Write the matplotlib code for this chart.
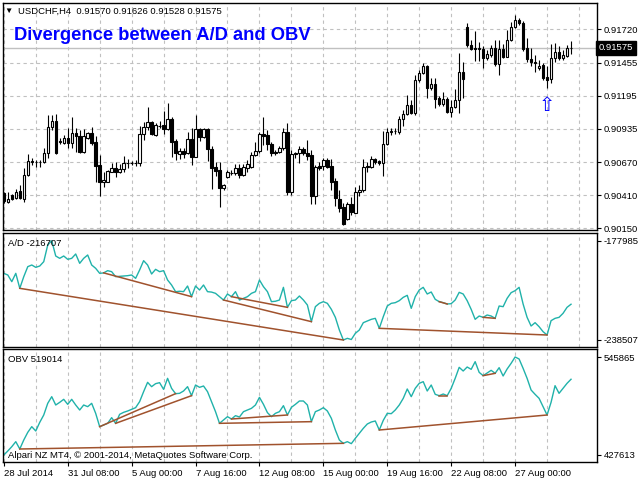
import matplotlib
matplotlib.use("Agg")
import matplotlib.pyplot as plt
import matplotlib.transforms as mtransforms
import numpy as np

plt.rcParams['font.family'] = ['Liberation Sans', 'DejaVu Sans']

# USDCHF H4 candles
opens = [
    0.90423, 0.90358, 0.90411, 0.90385, 0.90443, 0.90379, 0.90569, 0.90674, 0.90674, 0.90669,
    0.90674, 0.90740, 0.90951, 0.90996, 0.90830, 0.90824, 0.90864, 0.90819, 0.90898, 0.90879,
    0.90748, 0.90859, 0.90898, 0.90827, 0.90648, 0.90516, 0.90516, 0.90595, 0.90622, 0.90595,
    0.90616, 0.90661, 0.90663, 0.90661, 0.90661, 0.90891, 0.90946, 0.90985, 0.90885, 0.90958,
    0.90964, 0.90930, 0.91011, 0.90838, 0.90733, 0.90759, 0.90740, 0.90853, 0.90714, 0.90932,
    0.90872, 0.90932, 0.90774, 0.90632, 0.90606, 0.90464, 0.90556, 0.90585, 0.90582, 0.90627,
    0.90569, 0.90627, 0.90635, 0.90727, 0.90759, 0.90891, 0.90885, 0.90811, 0.90751, 0.90753,
    0.90785, 0.90906, 0.90432, 0.90733, 0.90740, 0.90774, 0.90740, 0.90727, 0.90405, 0.90640,
    0.90640, 0.90688, 0.90640, 0.90522, 0.90379, 0.90319, 0.90221, 0.90340, 0.90271, 0.90432,
    0.90450, 0.90635, 0.90630, 0.90693, 0.90680, 0.90661, 0.90811, 0.90911, 0.90917, 0.90911,
    0.91009, 0.91049, 0.91122, 0.91056, 0.91319, 0.91377, 0.91430, 0.91254, 0.91286, 0.91177,
    0.91130, 0.91169, 0.91067, 0.91110, 0.91162, 0.91385, 0.91741, 0.91596, 0.91575, 0.91562,
    0.91564, 0.91493, 0.91517, 0.91570, 0.91444, 0.91564, 0.91504, 0.91636, 0.91736, 0.91793,
    0.91767, 0.91570, 0.91485, 0.91459, 0.91417, 0.91438, 0.91346, 0.91327, 0.91491, 0.91543,
    0.91496, 0.91511, 0.91570,
]
highs = [
    0.90435, 0.90437, 0.90419, 0.90458, 0.90490, 0.90624, 0.90735, 0.90703, 0.90688, 0.90688,
    0.90782, 0.91043, 0.91043, 0.91051, 0.90864, 0.90887, 0.90940, 0.91027, 0.90940, 0.90924,
    0.90932, 0.90911, 0.90948, 0.90877, 0.90727, 0.90593, 0.90608, 0.90664, 0.90672, 0.90656,
    0.90719, 0.90695, 0.90680, 0.90688, 0.90956, 0.90988, 0.91106, 0.90996, 0.90980, 0.90996,
    0.91075, 0.91138, 0.91027, 0.90853, 0.90782, 0.90782, 0.90909, 0.90940, 0.91043, 0.90940,
    0.90940, 0.90940, 0.90798, 0.90672, 0.90672, 0.90498, 0.90608, 0.90608, 0.90656, 0.90656,
    0.90656, 0.90688, 0.90751, 0.90830, 0.90909, 0.91027, 0.90924, 0.90830, 0.90766, 0.90798,
    0.90940, 0.90980, 0.90766, 0.90753, 0.90798, 0.90790, 0.90845, 0.90766, 0.90648, 0.90672,
    0.90703, 0.90703, 0.90695, 0.90545, 0.90450, 0.90348, 0.90356, 0.90395, 0.90474, 0.90490,
    0.90695, 0.90672, 0.90719, 0.90703, 0.90688, 0.90917, 0.90940, 0.90940, 0.90940, 0.91035,
    0.91082, 0.91201, 0.91161, 0.91359, 0.91398, 0.91454, 0.91438, 0.91335, 0.91335, 0.91193,
    0.91225, 0.91185, 0.91162, 0.91248, 0.91530, 0.91462, 0.91767, 0.91636, 0.91707, 0.91622,
    0.91590, 0.91556, 0.91596, 0.91636, 0.91636, 0.91604, 0.91714, 0.91778, 0.91833, 0.91809,
    0.91786, 0.91651, 0.91572, 0.91517, 0.91477, 0.91454, 0.91430, 0.91604, 0.91612, 0.91588,
    0.91556, 0.91596, 0.91626,
]
lows = [
    0.90348, 0.90348, 0.90371, 0.90379, 0.90379, 0.90356, 0.90561, 0.90648, 0.90632, 0.90632,
    0.90664, 0.90703, 0.90924, 0.90738, 0.90814, 0.90814, 0.90782, 0.90782, 0.90751, 0.90743,
    0.90743, 0.90853, 0.90806, 0.90514, 0.90403, 0.90474, 0.90514, 0.90593, 0.90553, 0.90585,
    0.90593, 0.90624, 0.90648, 0.90640, 0.90642, 0.90846, 0.90924, 0.90885, 0.90877, 0.90940,
    0.90893, 0.90924, 0.90711, 0.90688, 0.90695, 0.90703, 0.90735, 0.90648, 0.90711, 0.90838,
    0.90861, 0.90680, 0.90458, 0.90561, 0.90319, 0.90450, 0.90545, 0.90569, 0.90569, 0.90545,
    0.90561, 0.90593, 0.90624, 0.90719, 0.90743, 0.90806, 0.90766, 0.90719, 0.90727, 0.90743,
    0.90766, 0.90411, 0.90411, 0.90701, 0.90664, 0.90727, 0.90688, 0.90340, 0.90340, 0.90608,
    0.90608, 0.90624, 0.90450, 0.90324, 0.90277, 0.90174, 0.90214, 0.90253, 0.90269, 0.90403,
    0.90435, 0.90593, 0.90624, 0.90656, 0.90648, 0.90561, 0.90806, 0.90885, 0.90893, 0.90893,
    0.90956, 0.91045, 0.91051, 0.91043, 0.91304, 0.91367, 0.91177, 0.91240, 0.91098, 0.91114,
    0.91114, 0.91059, 0.91027, 0.91098, 0.91059, 0.91177, 0.91580, 0.91556, 0.91470, 0.91470,
    0.91412, 0.91477, 0.91501, 0.91430, 0.91359, 0.91493, 0.91501, 0.91628, 0.91730, 0.91754,
    0.91549, 0.91462, 0.91430, 0.91383, 0.91398, 0.91319, 0.91256, 0.91293, 0.91462, 0.91477,
    0.91477, 0.91501, 0.91528,
]
closes = [
    0.90364, 0.90379, 0.90379, 0.90437, 0.90385, 0.90569, 0.90680, 0.90676, 0.90672, 0.90671,
    0.90740, 0.90951, 0.90996, 0.90740, 0.90834, 0.90864, 0.90824, 0.90898, 0.90879, 0.90748,
    0.90877, 0.90898, 0.90819, 0.90642, 0.90516, 0.90530, 0.90601, 0.90622, 0.90595, 0.90616,
    0.90661, 0.90663, 0.90661, 0.90664, 0.90891, 0.90946, 0.90985, 0.90893, 0.90964, 0.90960,
    0.90930, 0.91011, 0.90832, 0.90740, 0.90759, 0.90733, 0.90853, 0.90714, 0.90932, 0.90872,
    0.90932, 0.90772, 0.90627, 0.90603, 0.90464, 0.90490, 0.90590, 0.90587, 0.90627, 0.90569,
    0.90635, 0.90654, 0.90727, 0.90759, 0.90891, 0.90879, 0.90811, 0.90740, 0.90740, 0.90785,
    0.90906, 0.90432, 0.90733, 0.90740, 0.90774, 0.90740, 0.90719, 0.90405, 0.90635, 0.90622,
    0.90688, 0.90635, 0.90516, 0.90385, 0.90311, 0.90180, 0.90337, 0.90274, 0.90432, 0.90450,
    0.90630, 0.90637, 0.90698, 0.90672, 0.90661, 0.90814, 0.90909, 0.90913, 0.90919, 0.91009,
    0.91049, 0.91122, 0.91056, 0.91319, 0.91377, 0.91430, 0.91254, 0.91286, 0.91167, 0.91130,
    0.91169, 0.91067, 0.91110, 0.91162, 0.91383, 0.91327, 0.91596, 0.91562, 0.91562, 0.91575,
    0.91491, 0.91525, 0.91575, 0.91444, 0.91562, 0.91504, 0.91636, 0.91736, 0.91793, 0.91767,
    0.91562, 0.91485, 0.91459, 0.91451, 0.91432, 0.91338, 0.91319, 0.91496, 0.91543, 0.91496,
    0.91517, 0.91570, 0.91575,
]

# Accumulation/Distribution
ad = [
    -197875, -198891, -202954, -197875, -207018, -199907, -193812, -192796, -194218, -193405,
    -190764, -180606, -177985, -187310, -188732, -187310, -189342, -188732, -186091, -191780,
    -188732, -186701, -192796, -194828, -197875, -197600, -196250, -196859, -199907, -199700,
    -199500, -199300, -198891, -200923, -195843, -190155, -192796, -198281, -195437, -196859,
    -196250, -201939, -204986, -209049, -208800, -209049, -205596, -212097, -205596, -208034,
    -204986, -209049, -209300, -210065, -212097, -214129, -210472, -212097, -209049, -214129,
    -213113, -212097, -210065, -209049, -201939, -206002, -209049, -215145, -214900, -214129,
    -206408, -218598, -214535, -214129, -211691, -214129, -217176, -227335, -218192, -216160,
    -215145, -216160, -219817, -224694, -232414, -238507, -237493, -238200, -234446, -232414,
    -227944, -226928, -225913, -225303, -231398, -224287, -217786, -216160, -215754, -214535,
    -212503, -211284, -219208, -212097, -208034, -206408, -210472, -209253, -213722, -215145,
    -215754, -216567, -216364, -214129, -209456, -210472, -214535, -219817, -225913, -223881,
    -224694, -223271, -223881, -225303, -217786, -218192, -213113, -209659, -208440, -206408,
    -216567, -224694, -229976, -227944, -230382, -233430, -235462, -226725, -225303, -224694,
    -222256, -218598, -216707,
]

# On Balance Volume
obv = [
    427613, 432436, 437665, 443698, 434849, 445709, 454961, 461799, 456570, 467028,
    475877, 489955, 497999, 487944, 491161, 494782, 488748, 494782, 487944, 481910,
    487944, 485932, 489955, 477888, 461799, 463810, 465821, 472659, 465821, 476681,
    479095, 480703, 482715, 484726, 491966, 504033, 515295, 510066, 513686, 514893,
    506848, 520122, 508055, 501619, 502022, 504837, 510066, 499206, 512077, 509262,
    510871, 504033, 491966, 479899, 465821, 469843, 473866, 471050, 475072, 473463,
    479899, 481910, 483921, 487944, 497195, 488748, 478692, 473866, 477888, 479899,
    487139, 475877, 485128, 488748, 492770, 492770, 487944, 467832, 479899, 481910,
    484726, 480703, 471854, 457776, 445709, 441687, 443698, 441300, 447721, 453754,
    459787, 465016, 467430, 468637, 457776, 469441, 477888, 477486, 481910, 487944,
    495988, 507251, 497999, 508055, 514089, 516100, 504837, 512077, 500815, 499206,
    501217, 499206, 508055, 520122, 533396, 528971, 533798, 530982, 540233, 527362,
    523340, 526558, 529776, 526155, 532993, 522938, 531384, 538222, 545865, 543451,
    532189, 520122, 506044, 500815, 495988, 485932, 475877, 491161, 511273, 502022,
    508055, 514089, 519014,
]

# divergence lines (bar index pairs)
ad_pairs = [(4, 85), (25, 47), (55, 77), (57, 71), (94, 136), (109, 111), (120, 123)]
obv_pairs = [(4, 85), (24, 43), (28, 47), (54, 77), (57, 71), (94, 136), (109, 111), (120, 123)]

date_labels = ["28 Jul 2014", "31 Jul 08:00", "5 Aug 00:00", "7 Aug 16:00", "12 Aug 08:00",
               "15 Aug 00:00", "19 Aug 16:00", "22 Aug 08:00", "27 Aug 00:00"]
price_ticks = [0.90150, 0.90410, 0.90670, 0.90935, 0.91195, 0.91455, 0.91720]
last_price = 0.91575
signal_bar = 136
signal_price = 0.91122

FS = 6.8
GRID = dict(color='#c0c0c0', linestyle=(0, (3, 3)), linewidth=0.8)
LINE_COL = '#20b2aa'
DIV_COL = '#a0522d'

fig = plt.figure(figsize=(6.4, 4.8), dpi=100)
ax = fig.add_axes([3/640, 1-230/480, 594/640, 227.3/480])
ax_ad = fig.add_axes([3/640, 1-346.7/480, 594/640, 114.2/480])
ax_obv = fig.add_axes([3/640, 1-462.3/480, 594/640, 113.3/480])

idx = np.arange(len(closes))
o = np.array(opens); c = np.array(closes)
up = c >= o

# candles
ax.vlines(idx, lows, highs, color='black', linewidth=0.8, zorder=2)
ax.bar(idx, np.abs(c - o), bottom=np.minimum(o, c), width=0.6,
       color=np.where(up, 'white', 'black'), edgecolor='black', linewidth=0.8, zorder=3)
ax.axhline(last_price, color='#c0c0c0', linewidth=1, zorder=1)
ax.text(signal_bar, signal_price, '\u21e7', color='blue', ha='center', va='center',
        fontsize=14, family='DejaVu Sans', zorder=4)

ax.set_ylim(0.901345, 0.919302)
ax.set_yticks(price_ticks)
ax.set_yticklabels([f"{p:.5f}" for p in price_ticks])
ax.yaxis.tick_right()
ax.grid(True, **GRID)
trans = mtransforms.blended_transform_factory(ax.transAxes, ax.transData)
ax.text(1.003, last_price, f"{last_price:.5f}", transform=trans, color='white',
        fontsize=FS, va='center', ha='left',
        bbox=dict(facecolor='black', edgecolor='black', pad=1.8))

# A/D panel
ax_ad.plot(idx, ad, color=LINE_COL, linewidth=1)
for a, b in ad_pairs:
    ax_ad.plot([a, b], [ad[a], ad[b]], color=DIV_COL, linewidth=1.1)
ax_ad.set_ylim(-242592, -172987)
ax_ad.set_yticks([-238507, -177985])
ax_ad.set_yticklabels(['-238507', '-177985'])
ax_ad.yaxis.tick_right()
ax_ad.grid(True, axis='x', **GRID)

# OBV panel
ax_obv.plot(idx, obv, color=LINE_COL, linewidth=1)
for a, b in obv_pairs:
    ax_obv.plot([a, b], [obv[a], obv[b]], color=DIV_COL, linewidth=1.1)
ax_obv.set_ylim(418799, 555519)
ax_obv.set_yticks([427613, 545865])
ax_obv.set_yticklabels(['427613', '545865'])
ax_obv.yaxis.tick_right()
ax_obv.grid(True, axis='x', which='both', **GRID)

for a_ in (ax, ax_ad, ax_obv):
    a_.set_xlim(-0.2, 148.5)
    a_.set_xticks(range(0, 149, 8))
    a_.tick_params(axis='x', bottom=False, labelbottom=False)
    a_.tick_params(axis='y', length=3, width=0.8, pad=2, labelsize=FS, colors='black')
    for s in a_.spines.values():
        s.set_color('black')
        s.set_linewidth(1.0)

ax_obv.set_xticks(range(0, 129, 16))
ax_obv.set_xticks(range(8, 149, 16), minor=True)
ax_obv.set_xticklabels(date_labels, ha='left')
ax_obv.tick_params(axis='x', which='major', bottom=True, labelbottom=True,
                   length=3, width=0.8, pad=1.5, labelsize=FS)
ax_obv.tick_params(axis='x', which='minor', bottom=False)

# texts
fig.text(8/640, 1-11/480, '\u25bc', fontsize=6, va='center', ha='center')
fig.text(18/640, 1-11/480, 'USDCHF,H4  0.91570 0.91626 0.91528 0.91575',
         fontsize=FS, va='center')
fig.text(14/640, 1-36/480, 'Divergence between A/D and OBV', color='#0000ff',
         fontsize=13.2, fontweight='bold', va='center')
fig.text(8/640, 1-243/480, 'A/D -216707', fontsize=FS, va='center')
fig.text(8/640, 1-359/480, 'OBV 519014', fontsize=FS, va='center')
fig.text(8/640, 1-455/480, 'Alpari NZ MT4, \u00a9 2001-2014, MetaQuotes Software Corp.',
         fontsize=FS, va='center')

fig.savefig('out.png', dpi=100, facecolor='white')
